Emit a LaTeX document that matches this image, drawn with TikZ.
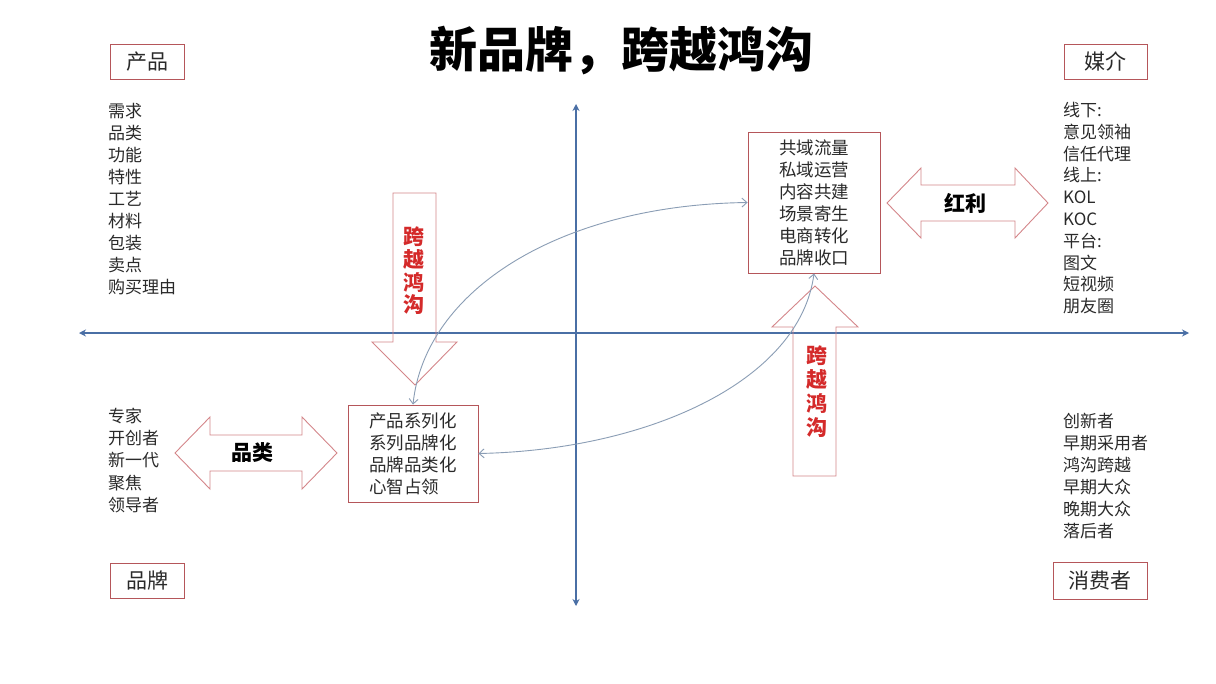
\documentclass[tikz,border=0pt]{standalone}
\usepackage{fontspec}
\setmainfont{Noto Sans CJK SC}
\usetikzlibrary{arrows.meta}
\definecolor{axisblue}{HTML}{4A6FA5}
\definecolor{curveblue}{HTML}{8A9DB5}
\definecolor{boxred}{HTML}{B5565A}
\definecolor{shapered}{HTML}{D4868A}
\definecolor{textred}{HTML}{D42A2A}
\definecolor{txt}{HTML}{2A2A2A}
\begin{document}
\begin{tikzpicture}[x=1pt,y=-1pt,
  axis/.style={draw=axisblue,line width=1.5pt,{Stealth[length=7pt,width=7pt]}-{Stealth[length=7pt,width=7pt]}},
  curve/.style={draw=curveblue,line width=0.9pt,{Straight Barb[length=5pt,width=9pt]}-{Straight Barb[length=5pt,width=9pt]}},
  cornerbox/.style={draw=boxred,line width=0.9pt,inner sep=0pt,minimum height=35pt,text=txt,font=\fontsize{21}{24}\selectfont},
  centerbox/.style={draw=boxred,line width=0.9pt,inner sep=0pt,align=left,text=txt,font=\fontsize{17.5}{22}\selectfont},
  item/.style={anchor=west,inner sep=0pt,text=txt,font=\fontsize{17}{20}\selectfont},
  bigarrow/.style={draw=shapered,line width=0.9pt},
  redtext/.style={text=textred,align=center,inner sep=0pt,font=\fontsize{21}{22.7}\selectfont\bfseries},
  arrowlabel/.style={text=black,inner sep=0pt,font=\fontsize{21}{24}\selectfont\bfseries}]
\useasboundingbox[fill=white] (0,0) rectangle (1216,683);

% title
\node[inner sep=0pt,font=\fontsize{48}{52}\selectfont\bfseries] (title) at (621,51) {新品牌，跨越鸿沟};

% axes
\coordinate (xl) at (79,333);
\coordinate (xr) at (1189,333);
\coordinate (yt) at (576,104);
\coordinate (yb) at (576,606);
\draw[axis] (xl) -- (xr);
\draw[axis] (yt) -- (yb);

% corner boxes
\node[cornerbox,minimum width=74pt] (prod) at (147,61.5) {产品};
\node[cornerbox,minimum width=83pt] (media) at (1105.5,61.5) {媒介};
\node[cornerbox,minimum width=74pt] (brand) at (147,580.5) {品牌};
\node[cornerbox,minimum width=94pt,minimum height=37pt] (cons) at (1100,580.5) {消费者};

% lists
\foreach \t [count=\i from 0] in {需求,品类,功能,特性,工艺,材料,包装,卖点,购买理由}
  \node[item] (pl\i) at (108,{111+22*\i}) {\t};
\foreach \t [count=\i from 0] in {线下:,意见领袖,信任代理,线上:,KOL,KOC,平台:,图文,短视频,朋友圈}
  \node[item] (ml\i) at (1063,{110+21.8*\i}) {\t};
\foreach \t [count=\i from 0] in {专家,开创者,新一代,聚焦,领导者}
  \node[item] (bl\i) at (108,{416+22.2*\i}) {\t};
\foreach \t [count=\i from 0] in {创新者,早期采用者,鸿沟跨越,早期大众,晚期大众,落后者}
  \node[item] (cl\i) at (1063,{421+22*\i}) {\t};

% center boxes
\node[centerbox,minimum width=132pt,minimum height=141pt] (mbox) at (814,202.5)
  {共域流量\\私域运营\\内容共建\\场景寄生\\电商转化\\品牌收口};
\node[centerbox,minimum width=130pt,minimum height=97pt] (bbox) at (413,453.5)
  {产品系列化\\系列品牌化\\品牌品类化\\心智占领};

% big arrows
\draw[bigarrow] (393,193) -- (436,193) -- (436,342) -- (457,342) -- (415,385) -- (372,342) -- (393,342) -- cycle;
\node[redtext] (downtxt) at (414,271) {跨\\越\\鸿\\沟};

\draw[bigarrow] (815,286) -- (858,327) -- (836,327) -- (836,476) -- (793,476) -- (793,327) -- (772,327) -- cycle;
\node[redtext,font=\fontsize{21}{24}\selectfont\bfseries] (uptxt) at (817,392) {跨\\越\\鸿\\沟};

\draw[bigarrow] (887,203) -- (921,168) -- (921,185) -- (1015,185) -- (1015,168) -- (1048,203)
  -- (1015,238) -- (1015,221) -- (921,221) -- (921,238) -- cycle;
\node[arrowlabel] (hongli) at (965,203) {红利};

\draw[bigarrow] (175,453) -- (210,417) -- (210,435) -- (302,435) -- (302,417) -- (337,453)
  -- (302,489) -- (302,471) -- (210,471) -- (210,489) -- cycle;
\node[arrowlabel] (pinlei) at (252,453) {品类};

% curves
\draw[curve] (bbox.north) .. controls (425,290) and (560,205) .. (mbox.west);
\draw[curve] (mbox.south) .. controls (800,380) and (650,450) .. (bbox.east);
\end{tikzpicture}
\end{document}
